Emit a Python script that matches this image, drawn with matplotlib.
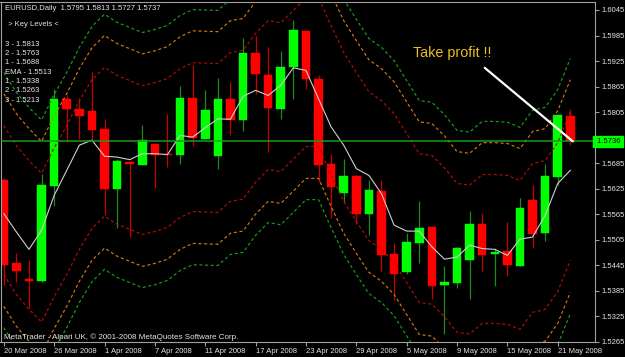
import matplotlib
matplotlib.use("Agg")
import matplotlib.pyplot as plt
import numpy as np

# ---------------- data ----------------
tick_idx = [0, 4, 8, 12, 16, 20, 24, 28, 32, 36, 40, 44]
tick_labels = ["20 Mar 2008", "26 Mar 2008", "1 Apr 2008", "7 Apr 2008",
               "11 Apr 2008", "17 Apr 2008", "23 Apr 2008", "29 Apr 2008",
               "5 May 2008", "9 May 2008", "15 May 2008", "21 May 2008"]

opens = [1.5646, 1.5451, 1.5413, 1.5407, 1.5631, 1.5836, 1.5813, 1.5807, 1.5764, 1.5623,
         1.5688, 1.5680, 1.5731, 1.5707, 1.5705, 1.5837, 1.5742, 1.5702, 1.5836, 1.5786,
         1.5944, 1.5893, 1.5812, 1.5910, 1.5996, 1.5883, 1.5682, 1.5614, 1.5655, 1.5565,
         1.5619, 1.5472, 1.5429, 1.5498, 1.5535, 1.5398, 1.5404, 1.5458, 1.5542, 1.5471,
         1.5478, 1.5442, 1.5598, 1.5521, 1.5653, 1.5795]
highs = [1.5650, 1.5474, 1.5456, 1.5660, 1.5859, 1.5846, 1.5839, 1.5899, 1.5788, 1.5694,
         1.5689, 1.5775, 1.5733, 1.5800, 1.5866, 1.5915, 1.5858, 1.5885, 1.5876, 1.5980,
         1.5985, 1.5958, 1.5948, 1.6021, 1.5998, 1.5891, 1.5707, 1.5695, 1.5656, 1.5645,
         1.5645, 1.5498, 1.5521, 1.5595, 1.5537, 1.5443, 1.5488, 1.5572, 1.5568, 1.5485,
         1.5546, 1.5603, 1.5634, 1.5682, 1.5799, 1.5813]
lows = [1.5398, 1.5405, 1.5343, 1.5405, 1.5584, 1.5735, 1.5742, 1.5741, 1.5564, 1.5532,
        1.5511, 1.5680, 1.5627, 1.5676, 1.5682, 1.5725, 1.5742, 1.5672, 1.5752, 1.5760,
        1.5848, 1.5711, 1.5789, 1.5835, 1.5860, 1.5640, 1.5556, 1.5592, 1.5542, 1.5517,
        1.5431, 1.5362, 1.5423, 1.5451, 1.5366, 1.5284, 1.5391, 1.5365, 1.5431, 1.5396,
        1.5419, 1.5442, 1.5485, 1.5501, 1.5634, 1.5727]
closes = [1.5445, 1.5431, 1.5408, 1.5633, 1.5835, 1.5812, 1.5796, 1.5762, 1.5625, 1.5689,
          1.5683, 1.5740, 1.5703, 1.5703, 1.5837, 1.5744, 1.5810, 1.5836, 1.5787, 1.5944,
          1.5894, 1.5815, 1.5911, 1.5998, 1.5883, 1.5681, 1.5629, 1.5655, 1.5565, 1.5621,
          1.5468, 1.5423, 1.5499, 1.5532, 1.5396, 1.5405, 1.5485, 1.5542, 1.5468, 1.5476,
          1.5445, 1.5579, 1.5519, 1.5655, 1.5797, 1.5737]

ema = [1.5566, 1.5523, 1.5482, 1.5527, 1.5609, 1.5668, 1.5727, 1.5739, 1.5701, 1.5699,
       1.5693, 1.5707, 1.5707, 1.5705, 1.5750, 1.5746, 1.5768, 1.5789, 1.5788, 1.5842,
       1.5856, 1.5844, 1.5868, 1.5909, 1.5903, 1.5836, 1.5770, 1.5727, 1.5672, 1.5656,
       1.5613, 1.5539, 1.5525, 1.5525, 1.5488, 1.5459, 1.5464, 1.5492, 1.5484, 1.5482,
       1.5468, 1.5506, 1.5511, 1.5562, 1.5637, 1.5668]

band_mid = [1.5598, 1.5551, 1.5516, 1.5486, 1.5546, 1.5598, 1.5657, 1.5706, 1.5735, 1.5716,
            1.5704, 1.5692, 1.5699, 1.5709, 1.5732, 1.5746, 1.5745, 1.5744, 1.5770, 1.5775,
            1.5815, 1.5845, 1.5840, 1.5869, 1.5899, 1.5899, 1.5833, 1.5770, 1.5723, 1.5678,
            1.5657, 1.5626, 1.5579, 1.5532, 1.5528, 1.5499, 1.5462, 1.5458, 1.5483, 1.5483,
            1.5481, 1.5469, 1.5509, 1.5516, 1.5558, 1.5631]
band_offsets = [0.0175, 0.025, 0.03]
band_colors = ["#b40a0a", "#d2780f", "#16a016"]

y_ticks = [1.6045, 1.5985, 1.5925, 1.5865, 1.5805, 1.5745, 1.5685, 1.5625,
           1.5565, 1.5505, 1.5445, 1.5385, 1.5325, 1.5265]
current_price = 1.5736
header = "EURUSD,Daily  1.5795 1.5813 1.5727 1.5737"
key_title = " > Key Levels <"
key_lines = ["3 - 1.5813", "2 - 1.5763", "1 - 1.5688", "EMA - 1.5513",
             "1 - 1.5338", "2 - 1.5263", "3 - 1.5213"]
copyright_txt = "MetaTrader - Alpari UK, \u00a9 2001-2008 MetaQuotes Software Corp."
note_txt = "Take profit !!"
tp_line_start = (38.2, 1.5909)
tp_line_end = (45.2, 1.5736)

# ---------------- figure ----------------
W, H = 625, 357
fig = plt.figure(figsize=(W / 100, H / 100), dpi=100, facecolor="black")
FONT = "Liberation Sans"
TXT = "#e6e6e6"
SMALL = 5.5

ax = fig.add_axes([0.5 / W, 1 - 342 / H, 594.5 / W, 340 / H])
ax.set_facecolor("black")
x = np.arange(len(opens))
ax.set_xlim(-0.262, 46.96)
ax.set_ylim(1.52642, 1.60638)

# bands
mid = np.array(band_mid)
for off, col in zip(band_offsets, band_colors):
    for sgn in (1, -1):
        ax.plot(x, mid + sgn * off, color=col, lw=0.85, ls=(0, (2.6, 2.2)), zorder=3)

# candles
for i in range(len(opens)):
    o, h, l, c = opens[i], highs[i], lows[i], closes[i]
    bull = c >= o
    body_col = "#00ff00" if bull else "#ff0000"
    wick_col = "#1c8c1c" if bull else "#c80000"
    ax.vlines(i, l, h, color=wick_col, lw=0.9, zorder=2)
    hgt = max(abs(c - o), 0.00045)
    ax.bar(i, hgt, bottom=min(o, c), width=0.68, color=body_col,
           edgecolor=body_col, lw=0.3, zorder=2.5)

# EMA
ax.plot(x, ema, color="#d0d0d0", lw=0.8, zorder=4)

# current price line
ax.axhline(current_price, color="#1a9a1a", lw=1.1, zorder=4.5)

# take profit line
ax.plot([tp_line_start[0], tp_line_end[0]], [tp_line_start[1], tp_line_end[1]],
        color="white", lw=1.6, zorder=5, solid_capstyle="round")

# axes styling
for s in ax.spines.values():
    s.set_color("#a0a0a0")
    s.set_linewidth(0.8)
ax.yaxis.tick_right()
ax.set_yticks(y_ticks)
ax.set_yticklabels(["" if abs(v - 1.5745) < 1e-6 else f"{v:.4f}" for v in y_ticks])
ax.set_xticks(tick_idx)
ax.set_xticklabels(tick_labels)
ax.tick_params(axis="y", colors="#a0a0a0", labelcolor=TXT, length=3, width=0.8,
               pad=1.5, labelsize=SMALL)
ax.tick_params(axis="x", colors="#a0a0a0", labelcolor=TXT, length=3, width=0.8,
               pad=1, labelsize=SMALL)
for lab in ax.get_xticklabels():
    lab.set_horizontalalignment("left")
    lab.set_fontfamily(FONT)
for lab in ax.get_yticklabels():
    lab.set_fontfamily(FONT)

# texts
def ftext(px, py, s, **kw):
    fig.text(px / W, 1 - py / H, s, **kw)

ftext(5, 8, header, color=TXT, fontsize=SMALL, family=FONT, va="center", ha="left")
ftext(6, 25, key_title, color=TXT, fontsize=SMALL, family=FONT, va="center", ha="left")
for k, s in enumerate(key_lines):
    ftext(5, 44 + k * 9.35, s, color=TXT, fontsize=SMALL, family=FONT, va="center", ha="left")
ftext(4, 337, copyright_txt, color=TXT, fontsize=5.8, family=FONT, va="center", ha="left")
ftext(413, 53, note_txt, color="#e8c020", fontsize=10.3, family=FONT, va="center", ha="left")

# current price label on the scale
ax.text(1.0, current_price, f" {current_price:.4f}", transform=ax.get_yaxis_transform(),
        ha="left", va="center", fontsize=SMALL, family=FONT, color="black", zorder=10,
        clip_on=False,
        bbox=dict(boxstyle="square,pad=0.3", facecolor="#00ff00", edgecolor="#00ff00"))

fig.savefig("out.png", dpi=100, facecolor="black")
